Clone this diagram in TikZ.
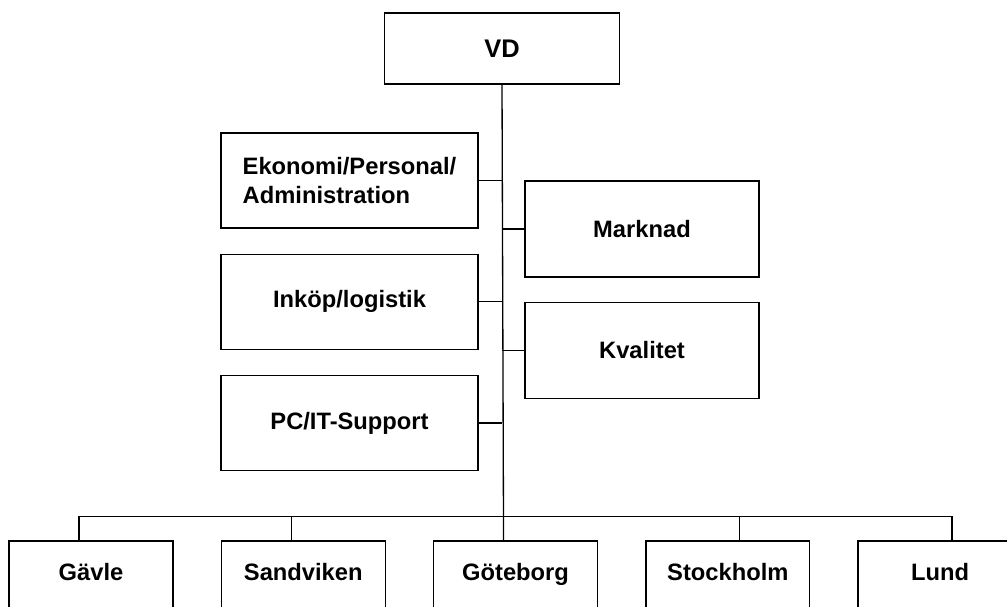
\documentclass[tikz,border=0pt]{standalone}
\usepackage{fontspec}
\setmainfont{Liberation Sans}
\usetikzlibrary{positioning}

\begin{document}
\begin{tikzpicture}[x=0.02cm, y=-0.02cm, line width=0.75pt,
    font=\fontsize{13.5}{17}\selectfont\bfseries,
    unit/.style={draw, inner sep=0pt, align=left},
    staff/.style={unit, minimum width=5.14cm, minimum height=1.9cm},
    line/.style={unit, minimum width=4.68cm, minimum height=1.92cm},
    site/.style={unit, minimum width=3.28cm, minimum height=1.4cm,
                 text height=0.72em, text depth=0.22em}]
  \useasboundingbox (0,0) rectangle (1007,607);
  \clip (0,0) rectangle (1007,607);

  \node[unit, minimum width=4.7cm, minimum height=1.42cm,
        font=\fontsize{14.5}{17}\selectfont\bfseries] (vd) at (502,48.5) {VD};

  % staff functions, left column
  \node[staff] (eko) at (349.5,180.5) {Ekonomi/Personal/\\Administration};
  \node[staff] (ink) [below=0.5cm of eko] {Inköp/logistik};
  \node[staff] (pcit) [below=0.5cm of ink] {PC/IT-Support};

  % right column
  \node[line] (mkt) at (642,229) {Marknad};
  \node[line] (kval) [below=0.48cm of mkt] {Kvalitet};

  % sites
  \node[site] (gav) at (91,576) {Gävle};
  \node[site] (snd) [right=0.94cm of gav] {Sandviken};
  \node[site] (got) [right=0.94cm of snd] {Göteborg};
  \node[site] (sto) [right=0.94cm of got] {Stockholm};
  \node[site] (lund) [right=0.94cm of sto] {Lund};

  \draw (vd.south) -- ([xshift=-0.24cm]got.north);
  \draw (eko.east) -- (eko.east -| vd.south);
  \draw (ink.east) -- (ink.east -| vd.south);
  \draw (pcit.east) -- (pcit.east -| vd.south);
  \draw (mkt.west) -- (mkt.west -| vd.south);
  \draw (kval.west) -- (kval.west -| vd.south);

  \draw ([xshift=-0.24cm]gav.north) -- ++(0,-24) -| ([xshift=0.24cm]lund.north);
  \draw ([xshift=-0.24cm]snd.north) -- ++(0,-24);
  \draw ([xshift=0.24cm]sto.north) -- ++(0,-24);
\end{tikzpicture}
\end{document}
